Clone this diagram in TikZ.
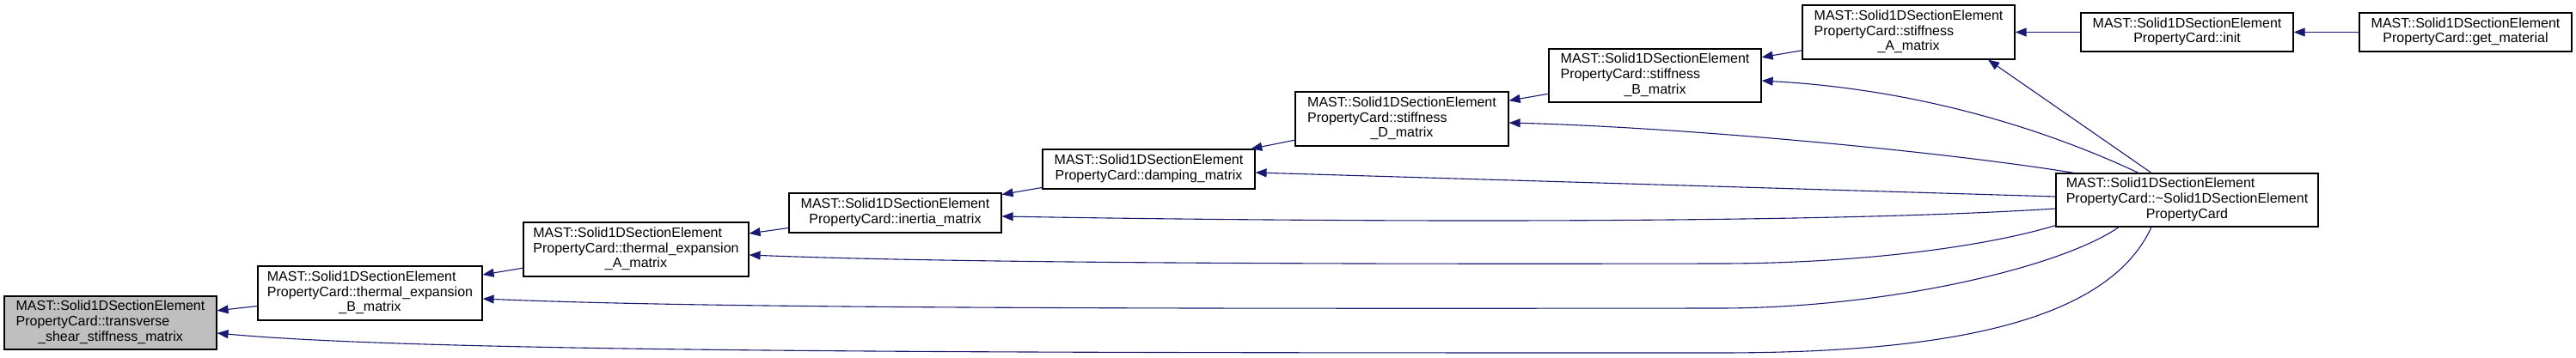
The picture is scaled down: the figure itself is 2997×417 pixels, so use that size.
\documentclass[tikz,border=0pt]{standalone}
\usepackage{fontspec}
\setmainfont{Liberation Sans}
\usetikzlibrary{calc,arrows.meta}

\definecolor{edgeblue}{HTML}{191970}
\definecolor{focusgray}{HTML}{BFBFBF}

\newcommand{\labtwo}[2]{\begin{tabular}{@{}c@{}}#1\\#2\end{tabular}}
\newcommand{\labthree}[3]{\begin{tabular}{@{}l@{}}#1\\#2\\\multicolumn{1}{@{}c@{}}{#3}\end{tabular}}

\begin{document}
\begin{tikzpicture}[x=1pt,y=-1pt,
  fn/.style={draw=black,line width=1.2pt,fill=white,inner sep=0pt,font=\fontsize{16}{17.7}\selectfont},
  call/.style={draw=edgeblue,line width=1.1pt,-{Triangle[length=13pt,width=10pt]}}]
\useasboundingbox (0,0) rectangle (2997,417);
\node[fn,fill=focusgray,minimum width=247pt,minimum height=62pt] (trans) at (128.5,376)
  {\labthree{MAST::Solid1DSectionElement}{PropertyCard::transverse}{\_shear\_stiffness\_matrix}};
\foreach \name/\x/\y/\w/\h/\txt in {
    thermB/430.5/341.5/261/63/{\labthree{MAST::Solid1DSectionElement}{PropertyCard::thermal\_expansion}{\_B\_matrix}},
    thermA/740/290.5/262/63/{\labthree{MAST::Solid1DSectionElement}{PropertyCard::thermal\_expansion}{\_A\_matrix}},
    inertia/1041.5/248/247/46/{\labtwo{MAST::Solid1DSectionElement}{PropertyCard::inertia\_matrix}},
    damping/1336.5/197/247/46/{\labtwo{MAST::Solid1DSectionElement}{PropertyCard::damping\_matrix}},
    stiffD/1631/138.5/248/63/{\labthree{MAST::Solid1DSectionElement}{PropertyCard::stiffness}{\_D\_matrix}},
    stiffB/1925.5/88/247/62/{\labthree{MAST::Solid1DSectionElement}{PropertyCard::stiffness}{\_B\_matrix}},
    stiffA/2220.5/37.5/247/63/{\labthree{MAST::Solid1DSectionElement}{PropertyCard::stiffness}{\_A\_matrix}},
    init/2544.5/37.5/247/45/{\labtwo{MAST::Solid1DSectionElement}{PropertyCard::init}},
    getmat/2868.5/37.5/247/45/{\labtwo{MAST::Solid1DSectionElement}{PropertyCard::get\_material}},
    dtor/2544.5/233/305/62/{\labthree{MAST::Solid1DSectionElement}{PropertyCard::\textasciitilde Solid1DSectionElement}{PropertyCard}}%
}{
  \node[fn,minimum width=\w pt,minimum height=\h pt] (\name) at (\x,\y) {\txt};
}
\foreach \a/\b in {thermB/trans,thermA/thermB,inertia/thermA,damping/inertia,stiffD/damping,
    stiffB/stiffD,stiffA/stiffB,init/stiffA,getmat/init}{
  \draw[call] (\a) -- (\b);
}
% calls from the destructor
\draw[call] ($(dtor.north)+(-41.5,0)$) -- ($(stiffA.south)+(92.5,0)$);
\draw[call] ($(dtor.north)+(-56.5,0)$) .. controls (2400,160) and (2250,105) .. ($(stiffB.east)+(0,6)$);
\draw[call] ($(dtor.north)+(-131.5,0)$) .. controls (2250,175) and (1950,148) .. ($(stiffD.east)+(0,4.5)$);
\draw[call] ($(dtor.west)+(0,-4)$) -- ($(damping.east)+(0,4)$);
\draw[call] ($(dtor.west)+(0,10)$) .. controls (2100,262) and (1500,258) .. ($(inertia.east)+(0,4)$);
\draw[call] ($(dtor.south west)+(0,-2)$) .. controls (2300,290) and (2150,307) .. (2000,307)
  .. controls (1500,308) and (1100,306) .. ($(thermA.east)+(0,6.5)$);
\draw[call] ($(dtor.south)+(-79.5,0)$) .. controls (2400,310) and (2200,359) .. (2000,359)
  .. controls (1200,360) and (800,358) .. ($(thermB.east)+(0,6.5)$);
\draw[call] ($(dtor.south)+(-41.5,0)$) .. controls (2450,380) and (2250,411) .. (2000,411)
  .. controls (1200,411) and (500,411) .. ($(trans.east)+(0,12)$);
\end{tikzpicture}
\end{document}
